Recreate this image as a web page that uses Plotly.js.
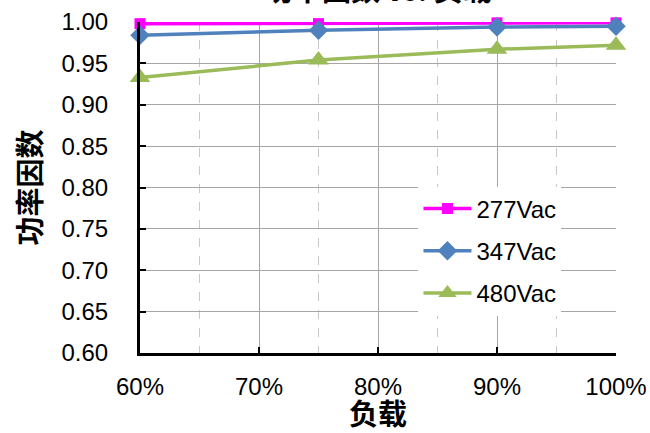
<!DOCTYPE html>
<html>
<head>
<meta charset="utf-8">
<script src="https://cdn.plot.ly/plotly-3.0.1.min.js"></script>
<style>
  html, body { margin: 0; padding: 0; background: #fff; }
  #chart { width: 650px; height: 433px; }
</style>
</head>
<body>
<div id="chart"></div>
<script>
// Load levels (fraction of full load)
const loadLevels = [0.60, 0.75, 0.90, 1.00];

// Power factor per input voltage
const pf277 = [0.998, 0.998, 0.999, 0.999];
const pf347 = [0.984, 0.990, 0.994, 0.995];
const pf480 = [0.933, 0.954, 0.967, 0.972];

const seriesNames = ['277Vac', '347Vac', '480Vac'];

const xTickVals = [0.6, 0.7, 0.8, 0.9, 1.0];
const xTickText = ['60%', '70%', '80%', '90%', '100%'];

const chartTitle = '功率因数 vs. 负载';
const xTitle = '负载';
const yTitle = '功率因数';

const latin = 'Liberation Sans, Arial, sans-serif';
const cjk = 'Noto Sans CJK SC, sans-serif';

function series(name, y, color, symbol, size, group) {
  return {
    x: loadLevels, y: y, name: name, type: 'scatter', mode: 'lines+markers',
    line: { color: color, width: 3.5 },
    marker: { color: color, symbol: symbol, size: size },
    legendgroup: group, cliponaxis: false
  };
}

const traces = [
  series(seriesNames[0], pf277, '#FF00FF', 'square', 11, 'a'),
  series(seriesNames[1], pf347, '#4F81BD', 'diamond', 15, 'b'),
  series(seriesNames[2], pf480, '#9BBB59', 'triangle-up', 18, 'c')
];

const layout = {
  width: 650, height: 433,
  margin: { l: 140, r: 34, t: 22, b: 80 },
  paper_bgcolor: '#fff', plot_bgcolor: '#fff',
  showlegend: true,
  legend: {
    x: 0.585, y: 0.503, xanchor: 'left', yanchor: 'top',
    bgcolor: '#fff', borderwidth: 0,
    font: { family: latin, size: 24, color: '#000' },
    itemwidth: 48, tracegroupgap: 8, traceorder: 'grouped'
  },
  xaxis: {
    range: [0.6, 1.0], tickvals: xTickVals, ticktext: xTickText,
    showgrid: true, gridcolor: '#a6a6a6', gridwidth: 1,
    minor: { tickvals: [0.65, 0.75, 0.85, 0.95], showgrid: true, gridcolor: '#c8c8c8', griddash: 'dash', gridwidth: 1 },
    showline: true, linecolor: '#000', linewidth: 3,
    ticks: 'inside', ticklen: 6, tickwidth: 2, tickcolor: '#000',
    tickfont: { family: latin, size: 24, color: '#000' },
    ticklabelstandoff: 10,
    zeroline: false,
    title: { text: xTitle, font: { family: cjk, size: 29, color: '#000', weight: 'bold' } }
  },
  yaxis: {
    range: [0.6, 1.0], dtick: 0.05, tickformat: '.2f',
    showgrid: true, gridcolor: '#a6a6a6', gridwidth: 1,
    showline: true, linecolor: '#000', linewidth: 3,
    ticks: 'inside', ticklen: 6, tickwidth: 2, tickcolor: '#000',
    tickfont: { family: latin, size: 24, color: '#000' },
    ticklabelstandoff: 24,
    zeroline: false,
    title: { text: yTitle, font: { family: cjk, size: 29, color: '#000', weight: 'bold' }, standoff: 12 }
  },
  annotations: [{
    text: chartTitle, showarrow: false,
    xref: 'paper', yref: 'paper', x: 0.5, y: 1 + 34 / 331,
    xanchor: 'center', yanchor: 'middle',
    font: { family: cjk, size: 29, color: '#000', weight: 'bold' }
  }]
};

Plotly.newPlot('chart', traces, layout, { displayModeBar: false, staticPlot: true });
</script>
</body>
</html>
